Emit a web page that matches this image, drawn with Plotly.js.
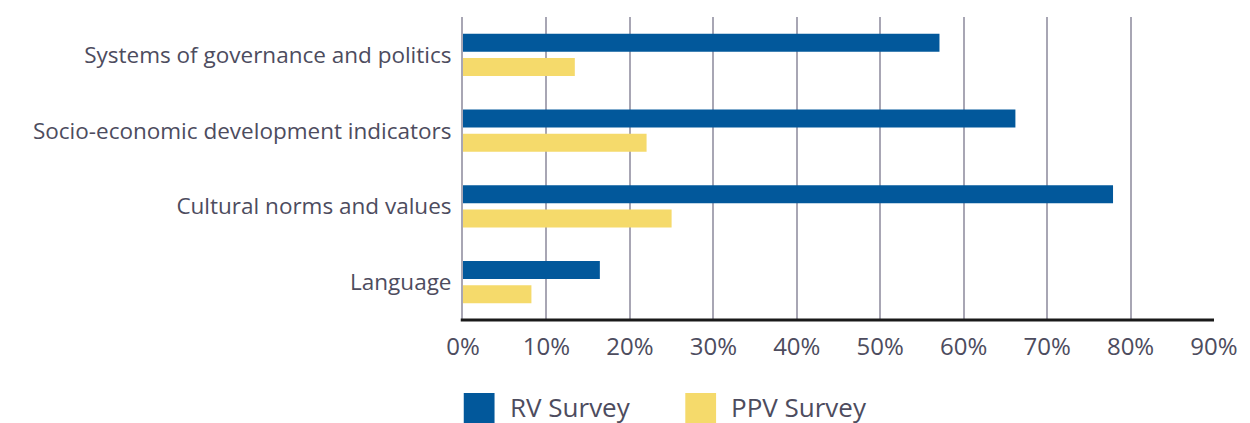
<!DOCTYPE html>
<html>
<head>
<meta charset="utf-8">
<script src="https://cdn.plot.ly/plotly-3.0.1.min.js"></script>
<style>
html,body{margin:0;padding:0;background:#fff;}
#chart{width:1250px;height:423px;}
</style>
</head>
<body>
<div id="chart"></div>
<script>
var categories = ["Language", "Cultural norms and values", "Socio-economic development indicators", "Systems of governance and politics"];
var rvValues = [16.4, 77.9, 66.2, 57.1];
var ppvValues = [8.2, 25.0, 22.0, 13.4];
var tickValues = [0, 10, 20, 30, 40, 50, 60, 70, 80, 90];
var tickLabels = ["0%", "10%", "20%", "30%", "40%", "50%", "60%", "70%", "80%", "90%"];
var seriesNames = ["RV Survey", "PPV Survey"];
var colors = ["#02589b", "#f5da6b"];

var traces = [
  {type: "bar", orientation: "h", name: seriesNames[1], y: categories, x: ppvValues,
   marker: {color: colors[1]}, hoverinfo: "x+y"},
  {type: "bar", orientation: "h", name: seriesNames[0], y: categories, x: rvValues,
   marker: {color: colors[0]}, hoverinfo: "x+y"}
];

var font = "'Open Sans', Lato, sans-serif";
var textColor = "#4d4c5e";

var layout = {
  width: 1250, height: 423,
  margin: {l: 463, r: 36, t: 17, b: 103, pad: 0},
  paper_bgcolor: "#ffffff", plot_bgcolor: "#ffffff",
  barmode: "group", bargap: 0.364, bargroupgap: 0.25,
  showlegend: false,
  font: {family: font, color: textColor},
  xaxis: {
    range: [0, 90], tickvals: tickValues, ticktext: tickLabels,
    showgrid: true, gridcolor: "#a8a6b4", gridwidth: 2,
    zeroline: false, showline: false, ticks: "",
    tickfont: {size: 24, color: textColor, family: font},
    ticklabelstandoff: 10, fixedrange: true
  },
  yaxis: {
    type: "category", showgrid: false, zeroline: false,
    showline: true, linecolor: "#a8a6b4", linewidth: 2,
    ticks: "", ticklabelstandoff: 5,
    tickfont: {size: 22.5, color: textColor, family: font},
    fixedrange: true
  },
  shapes: [
    {type: "line", xref: "paper", yref: "paper", x0: -0.003, x1: 1, y0: 0, y1: 0,
     line: {color: "#1a1a1a", width: 3}},
    {type: "rect", xref: "paper", yref: "paper", x0: 0.001, x1: 0.042, y0: -0.241, y1: -0.37,
     fillcolor: colors[0], line: {width: 0}},
    {type: "rect", xref: "paper", yref: "paper", x0: 0.296, x1: 0.337, y0: -0.241, y1: -0.37,
     fillcolor: colors[1], line: {width: 0}}
  ],
  annotations: [
    {xref: "paper", yref: "paper", x: 0.060, y: -0.222, xanchor: "left", yanchor: "top",
     text: seriesNames[0], showarrow: false, font: {size: 26, color: textColor, family: font}},
    {xref: "paper", yref: "paper", x: 0.354, y: -0.222, xanchor: "left", yanchor: "top",
     text: seriesNames[1], showarrow: false, font: {size: 26, color: textColor, family: font}}
  ]
};

Plotly.newPlot("chart", traces, layout, {displayModeBar: false, staticPlot: true});
</script>
</body>
</html>
